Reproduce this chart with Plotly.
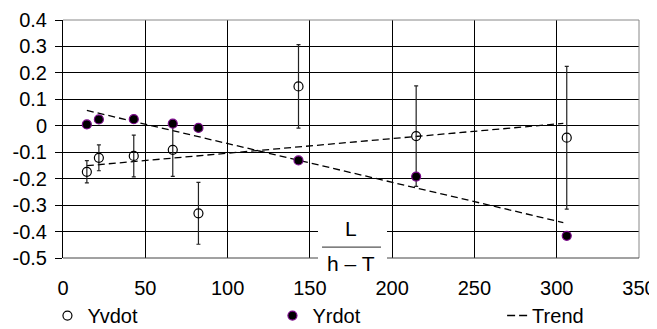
import plotly.graph_objects as go

# ---- data ----
x_vals = [14.5, 21.8, 43.0, 66.7, 82.3, 143.1, 214.6, 306.1]
yvdot = [-0.174, -0.121, -0.114, -0.091, -0.331, 0.149, -0.039, -0.045]
yvdot_err = [0.042, 0.049, 0.079, 0.100, 0.117, 0.158, 0.190, 0.270]
yrdot = [0.005, 0.024, 0.025, 0.008, -0.008, -0.131, -0.192, -0.416]

trend_x = [14.5, 304.0]
yv_trend = [-0.151, 0.009]
yr_trend = [0.058, -0.366]

x_ticks = [0, 50, 100, 150, 200, 250, 300, 350]
y_ticks = [0.4, 0.3, 0.2, 0.1, 0, -0.1, -0.2, -0.3, -0.4, -0.5]
y_tick_text = ["0.4", "0.3", "0.2", "0.1", "0", "-0.1", "-0.2", "-0.3", "-0.4", "-0.5"]

FONT = "Liberation Sans, Arial, sans-serif"

fig = go.Figure()

fig.add_trace(go.Scatter(
    x=trend_x, y=yv_trend, mode="lines", name="Trend",
    line=dict(color="black", width=1.3, dash="7px,4px"), showlegend=False,
))
fig.add_trace(go.Scatter(
    x=trend_x, y=yr_trend, mode="lines", name="Trend",
    line=dict(color="black", width=1.3, dash="7px,4px"), showlegend=False,
))
fig.add_trace(go.Scatter(
    x=x_vals, y=yvdot, mode="markers", name="Yvdot",
    marker=dict(symbol="circle-open", size=9, color="black", line=dict(width=1.2, color="black")),
    error_y=dict(type="data", array=yvdot_err, visible=True, color="#222", thickness=1.2, width=2),
))
fig.add_trace(go.Scatter(
    x=x_vals, y=yrdot, mode="markers", name="Yrdot",
    marker=dict(symbol="circle", size=9, color="black", line=dict(width=1.2, color="#7a0a8a")),
))
# legend-only entry for the trend (own legend box)
fig.add_trace(go.Scatter(
    x=[None], y=[None], mode="lines", name="Trend", legend="legend2",
    line=dict(color="black", width=1.5, dash="0px,10px,8px,4px,8px,100px"),
))

legend_common = dict(
    orientation="h", yanchor="top", y=-0.16,
    font=dict(family=FONT, size=20, color="black"),
    bgcolor="rgba(0,0,0,0)", itemwidth=30, tracegroupgap=0,
)

fig.update_layout(
    width=649, height=321,
    margin=dict(l=55, r=18, t=12, b=71, autoexpand=False),
    paper_bgcolor="white", plot_bgcolor="white",
    font=dict(family=FONT, size=20, color="black"),
    showlegend=True,
    legend=dict(x=-0.027, xanchor="left", entrywidth=180, entrywidthmode="pixels",
                **legend_common),
    legend2=dict(x=0.745, xanchor="left", **legend_common),
    xaxis=dict(
        range=[0, 350], tickvals=x_ticks, showgrid=True, gridcolor="black", gridwidth=1,
        zeroline=False, showline=False, ticks="", ticklabelstandoff=16,
        tickfont=dict(family=FONT, size=20),
    ),
    yaxis=dict(
        range=[-0.5, 0.4], tickvals=y_ticks, ticktext=y_tick_text,
        showgrid=True, gridcolor="black", gridwidth=1,
        zeroline=False, showline=True, linecolor="black", linewidth=1,
        ticks="outside", ticklen=7, tickcolor="black", ticklabelstandoff=4,
        tickfont=dict(family=FONT, size=20),
    ),
)

# gray plot border (top and right)
fig.add_shape(type="line", xref="paper", yref="paper", x0=0, x1=1, y0=1, y1=1,
              line=dict(color="#888", width=1))
fig.add_shape(type="line", xref="paper", yref="paper", x0=1, x1=1, y0=0, y1=1,
              line=dict(color="#888", width=1))
fig.add_shape(type="line", xref="paper", yref="paper", x0=0, x1=1, y0=0, y1=0,
              line=dict(color="#444", width=1))

# white box with the fraction L / (h - T)
fig.add_shape(type="rect", xref="paper", yref="paper",
              x0=0.4427, x1=0.5625, y0=-0.084, y1=0.16,
              fillcolor="white", line=dict(width=0), layer="above")
fig.add_shape(type="line", xref="paper", yref="paper",
              x0=0.4497, x1=0.5521, y0=0.046, y1=0.046,
              line=dict(color="#555", width=1.3), layer="above")
fig.add_annotation(text="L", xref="paper", yref="paper", x=0.5, y=0.122,
                   xanchor="center", yanchor="middle",
                   showarrow=False, font=dict(family=FONT, size=21, color="black"))
fig.add_annotation(text="h – T", xref="paper", yref="paper", x=0.5, y=-0.025,
                   xanchor="center", yanchor="middle",
                   showarrow=False, font=dict(family=FONT, size=21, color="black"))

fig.write_html("out.html")
